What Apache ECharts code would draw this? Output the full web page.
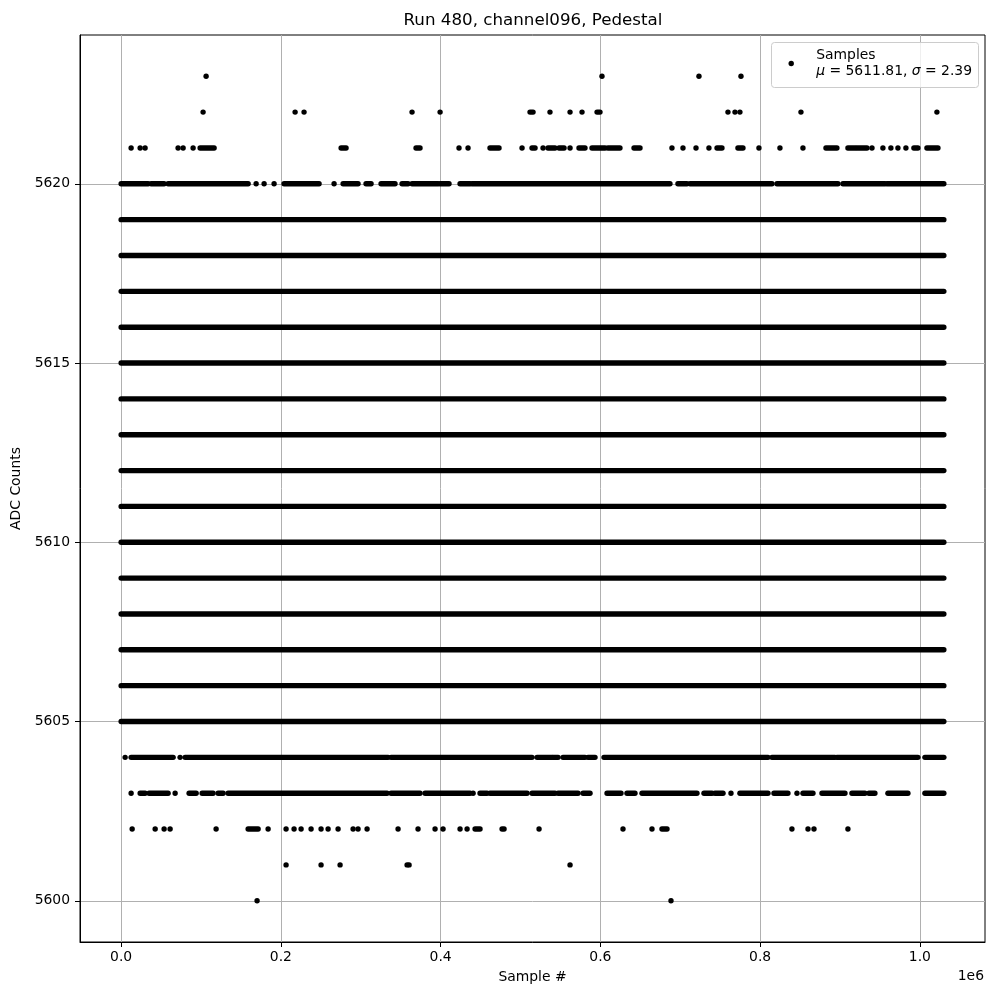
<!DOCTYPE html>
<html>
<head>
<meta charset="utf-8">
<script src="https://cdn.jsdelivr.net/npm/echarts@6/dist/echarts.min.js"></script>
<style>html,body{margin:0;padding:0;background:#fff}#chart{width:1000px;height:1000px}</style>
</head>
<body>
<div id="chart"></div>
<script>
// ---- data (x ranges in sample number; [start, end], start==end for single samples) ----
const chartTitle = 'Run 480, channel096, Pedestal';
const seriesName = 'Samples';
const meanADC = 5611.81;
const sigmaADC = 2.39;
const lastSample = 1030000;
const xTickValues = [0, 200000, 400000, 600000, 800000, 1000000];
const yTickValues = [5600, 5605, 5610, 5615, 5620];

const row5623 = [[106400,106400],[602000,602000],[723400,723400],[776000,776000]];
const row5622 = [[102600,102600],[217800,217800],[229000,229000],[364200,364200],[399300,399300],
  [511900,515700],[536900,536900],[562000,562000],[577000,577000],[595800,599500],
  [759700,759700],[768500,768500],[774700,774700],[851100,851100],[1021300,1021300]];
const row5621 = [[12500,12500],[23800,23800],[30000,30000],[71300,71300],[77600,77600],[90100,90100],
  [98900,116400],[275400,281600],[369200,374200],[423000,423000],[434300,434300],[461800,473100],
  [501900,501900],[514400,518200],[528200,528200],[534400,543200],[548200,554500],[562000,562000],
  [573200,580700],[589500,605800],[609500,624500],[642100,649600],[689600,689600],[703400,703400],
  [719700,719700],[735900,735900],[746000,752200],[772200,778500],[798500,798500],[824800,824800],
  [853600,853600],[882400,896100],[909900,918700],[921200,933700],[940000,940000],[953700,953700],
  [963700,963700],[972500,972500],[982500,982500],[992500,997500],[1008800,1022600]];
const row5620 = [[0,33800],[37500,53800],[58800,159000],[169000,169000],[179000,179000],[191500,191500],
  [204000,247800],[266600,266600],[277900,296600],[306600,312900],[325400,342900],[351700,359200],
  [364200,396800],[399300,410500],[424300,436800],[439300,687100],[697100,708400],[712200,814800],
  [821100,897400],[903700,956200],[958700,1030000]];
const fullRow = [[0,1030000]]; // rows 5605 .. 5619 are fully populated
const row5604 = [[5000,5000],[12500,65100],[73800,73800],[80100,334200],[337900,514400],[520700,539500],
  [540700,547000],[553200,580700],[584500,593300],[604500,809800],[814800,893600],[896100,997500],
  [1006300,1030000]];
const row5603 = [[12500,12500],[23800,30000],[35000,58800],[67600,67600],[85100,93900],[101400,115100],
  [121400,127700],[133900,332900],[337900,374200],[380500,436800],[440600,440600],[449300,458100],
  [461800,508200],[514400,543200],[547000,572000],[578300,587000],[608300,625800],[633300,643300],
  [652100,720900],[729700,739700],[743400,753500],[763500,763500],[774700,809800],[817300,834800],
  [846100,846100],[853600,866100],[877400,906200],[914900,931200],[936200,943700],[960000,985000],
  [1006300,1030000]];
const row5602 = [[13800,13800],[42600,42600],[53800,53800],[61300,61300],[118900,118900],[159000,171500],
  [184000,184000],[206500,206500],[216500,216500],[225300,225300],[237800,237800],[250300,250300],
  [259100,259100],[271600,271600],[290400,290400],[296600,296600],[307900,307900],[346700,346700],
  [371700,371700],[393000,393000],[403000,403000],[424300,424300],[433100,433100],[443100,449300],
  [476900,479400],[523200,523200],[628300,628300],[664600,664600],[677100,683400],[839800,839800],
  [859900,859900],[867400,867400],[909900,909900]];
const row5601 = [[206500,206500],[250300,250300],[274100,274100],[358000,358000],[360500,360500],[562000,562000]];
const row5600 = [[170200,170200],[688400,688400]];

const rowsByLevel = {
  5600: row5600, 5601: row5601, 5602: row5602, 5603: row5603, 5604: row5604,
  5605: fullRow, 5606: fullRow, 5607: fullRow, 5608: fullRow, 5609: fullRow, 5610: fullRow,
  5611: fullRow, 5612: fullRow, 5613: fullRow, 5614: fullRow, 5615: fullRow, 5616: fullRow,
  5617: fullRow, 5618: fullRow, 5619: fullRow,
  5620: row5620, 5621: row5621, 5622: row5622, 5623: row5623
};

// ---- build dataset: [start, end, adc] ----
const segData = [];
Object.keys(rowsByLevel).forEach(k => {
  rowsByLevel[k].forEach(s => segData.push([s[0], s[1], Number(k)]));
});

const FONT = 'DejaVu Sans';
const FS = 13.9;
const xPad = lastSample * 0.05;
const yMinData = 5600, yMaxData = 5623;
const yPad = (yMaxData - yMinData) * 0.05;

const chart = echarts.init(document.getElementById('chart'), null, {renderer: 'canvas'});
const R = 2.7;
chart.setOption({
  animation: false,
  backgroundColor: '#fff',
  textStyle: {fontFamily: FONT},
  title: {
    text: chartTitle,
    left: 533, top: 12, textAlign: 'center', padding: 0,
    textStyle: {fontFamily: FONT, fontSize: 16.7, fontWeight: 'normal', color: '#000'}
  },
  grid: {left: 80, right: 15, top: 35, bottom: 58, show: true, borderColor: '#000', borderWidth: 1, backgroundColor: 'transparent'},
  legend: {
    show: true,
    right: 22, top: 43,
    z: 30,
    orient: 'vertical',
    selectedMode: false,
    backgroundColor: 'transparent',
    borderWidth: 0,
    padding: [5, 6, 10, 0],
    itemWidth: 40, itemHeight: 5.4,
    data: [{name: seriesName, icon: 'circle', itemStyle: {color: '#000'}}],
    formatter: name => '{n|' + name + '}\n{i|μ}{n| = ' + meanADC.toFixed(2) + ', }{i|σ}{n| = ' + sigmaADC.toFixed(2) + '}',
    textStyle: {
      fontFamily: FONT, fontSize: FS, color: '#000', lineHeight: 15.5,
      rich: {
        n: {fontFamily: FONT, fontSize: FS, color: '#000', lineHeight: 15.5},
        i: {fontFamily: FONT, fontSize: FS, fontStyle: 'italic', color: '#000', lineHeight: 15.5}
      }
    }
  },
  xAxis: {
    type: 'value',
    min: -xPad, max: lastSample + xPad,
    name: 'Sample #', nameLocation: 'middle', nameGap: 28,
    nameTextStyle: {fontFamily: FONT, fontSize: FS, color: '#000'},
    axisLine: {show: true, onZero: false, lineStyle: {color: '#000', width: 1}},
    axisTick: {show: true, length: 5, inside: false, customValues: xTickValues, lineStyle: {color: '#000', width: 1}},
    axisLabel: {customValues: xTickValues, margin: 8, fontFamily: FONT, fontSize: FS, color: '#000',
      formatter: v => (v / 1e6).toFixed(1)},
    splitLine: {show: true, lineStyle: {color: '#b0b0b0', width: 1}}
  },
  yAxis: {
    type: 'value',
    min: yMinData - yPad, max: yMaxData + yPad,
    name: 'ADC Counts', nameLocation: 'middle', nameGap: 47, nameRotate: 90,
    nameTextStyle: {fontFamily: FONT, fontSize: FS, color: '#000'},
    axisLine: {show: true, onZero: false, lineStyle: {color: '#000', width: 1}},
    axisTick: {show: true, length: 5, inside: false, customValues: yTickValues, lineStyle: {color: '#000', width: 1}},
    axisLabel: {customValues: yTickValues, margin: 10, fontFamily: FONT, fontSize: FS, color: '#000',
      formatter: v => String(Math.round(v))},
    splitLine: {show: true, lineStyle: {color: '#b0b0b0', width: 1}}
  },
  graphic: [{
    type: 'rect', z: 20, silent: true,
    shape: {x: 771.5, y: 42.5, width: 207, height: 45, r: 3},
    style: {fill: 'rgba(255,255,255,0.8)', stroke: '#cccccc', lineWidth: 1}
  }, {
    type: 'text', right: 16, top: 969,
    style: {text: '1e6', fontFamily: FONT, fontSize: FS, fill: '#000'}
  }],
  series: [{
    name: seriesName,
    type: 'custom',
    data: segData,
    encode: {x: [0, 1], y: 2},
    clip: true,
    renderItem: function (params, api) {
      const y = api.value(2);
      const p0 = api.coord([api.value(0), y]);
      const p1 = api.coord([api.value(1), y]);
      return {
        type: 'rect',
        shape: {x: p0[0] - R, y: p0[1] - R, width: (p1[0] - p0[0]) + 2 * R, height: 2 * R, r: R},
        style: {fill: '#000'}
      };
    }
  }]
});
</script>
</body>
</html>
